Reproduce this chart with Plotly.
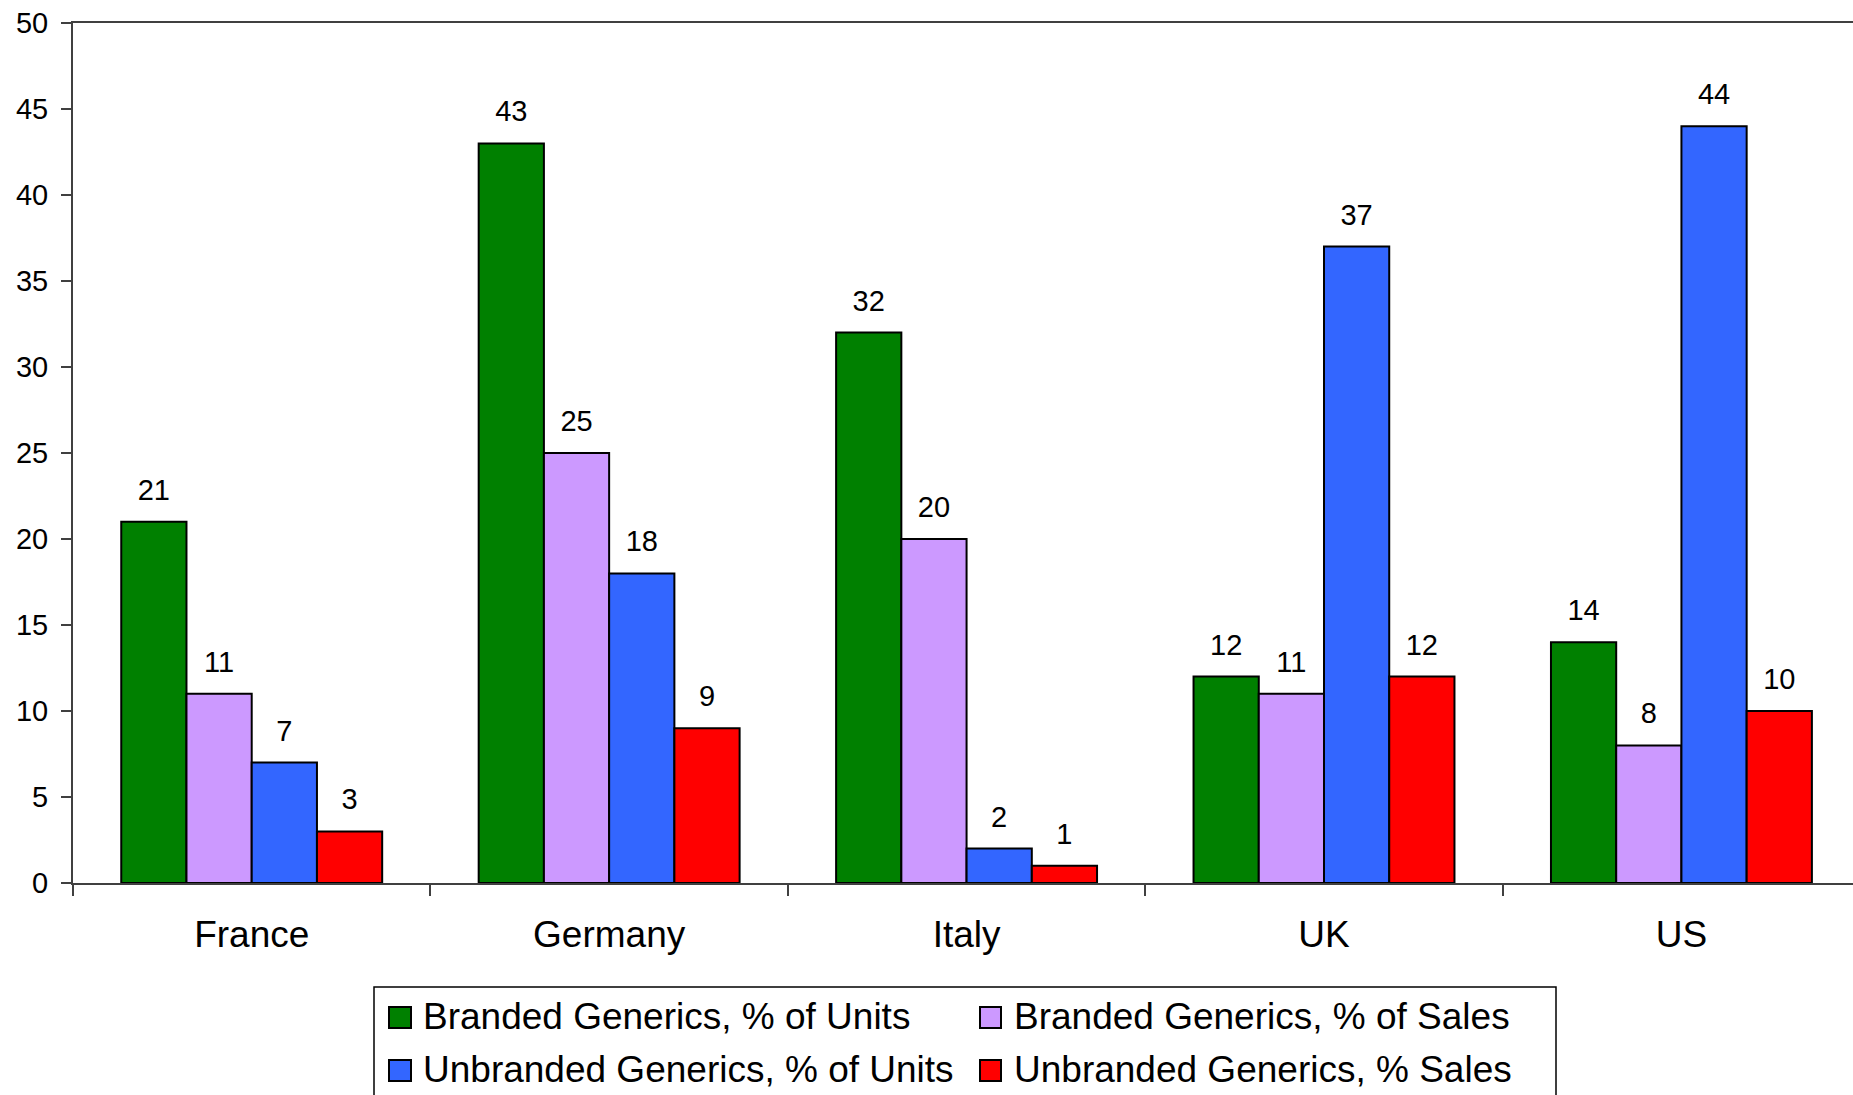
import plotly.graph_objects as go

countries = ["France", "Germany", "Italy", "UK", "US"]
series_names = [
    "Branded Generics, % of Units",
    "Branded Generics, % of Sales",
    "Unbranded Generics, % of Units",
    "Unbranded Generics, % Sales",
]
branded_units = [21, 43, 32, 12, 14]
branded_sales = [11, 25, 20, 11, 8]
unbranded_units = [7, 18, 2, 37, 44]
unbranded_sales = [3, 9, 1, 12, 10]
series_values = [branded_units, branded_sales, unbranded_units, unbranded_sales]
colors = ["#008000", "#CC99FF", "#3366FF", "#FF0000"]

FONT = "Liberation Sans, Arial, Helvetica, sans-serif"
W, H = 1853, 1095
ML, MT, MB = 73, 23, 212
PW = W - ML
PH = H - MT - MB
AXC = "#404040"

fig = go.Figure()
for i, (name, vals, col) in enumerate(zip(series_names, series_values, colors)):
    fig.add_trace(go.Bar(
        x=countries, y=vals, name=name, offsetgroup=str(i),
        marker=dict(color=col, line=dict(color="black", width=2)),
        showlegend=False, hoverinfo="x+y+name",
    ))
for i, vals in enumerate(series_values):
    fig.add_trace(go.Scatter(
        x=countries, y=vals, offsetgroup=str(i), mode="markers+text",
        text=[str(v) for v in vals], textposition="top center",
        textfont=dict(family=FONT, size=29, color="black"),
        marker=dict(size=22, color="rgba(0,0,0,0)"),
        showlegend=False, hoverinfo="skip", cliponaxis=False,
    ))

def px_x(px):
    return (px - ML) / PW

def px_y(py):
    return (H - MB - py) / PH

shapes = [dict(type="rect", xref="paper", yref="paper",
               x0=px_x(374), x1=px_x(1556), y0=px_y(987), y1=px_y(1110),
               line=dict(color="black", width=1.5), fillcolor="white", layer="above")]
annotations = []
col_sq = [(389, 411), (980, 1001)]
col_tx = [421, 1012]
row_sq = [(1007, 1028), (1060, 1081)]
row_tx = [1016, 1069]
for i, (name, col) in enumerate(zip(series_names, colors)):
    r, c = divmod(i, 2)
    shapes.append(dict(type="rect", xref="paper", yref="paper",
                       x0=px_x(col_sq[c][0]), x1=px_x(col_sq[c][1]),
                       y0=px_y(row_sq[r][1]), y1=px_y(row_sq[r][0]),
                       fillcolor=col, line=dict(color="black", width=2), layer="above"))
    annotations.append(dict(xref="paper", yref="paper", x=px_x(col_tx[c]), y=px_y(row_tx[r]),
                            xanchor="left", yanchor="middle", showarrow=False, text=name,
                            font=dict(family=FONT, size=37, color="black")))

fig.update_layout(
    width=W, height=H, autosize=False,
    margin=dict(l=ML, r=0, t=MT, b=MB, pad=0),
    paper_bgcolor="white", plot_bgcolor="white",
    barmode="group", bargap=0.27, bargroupgap=0,
    scattermode="group", scattergap=0.27,
    font=dict(family=FONT, color="black"),
    showlegend=False,
    shapes=shapes, annotations=annotations,
    xaxis=dict(type="category", range=[-0.5, 4.48], tickson="boundaries",
               ticks="outside", ticklen=11, tickwidth=1.5, tickcolor=AXC,
               showline=True, linecolor=AXC, linewidth=2, mirror=True,
               showgrid=False, zeroline=False, ticklabelstandoff=18,
               tickfont=dict(family=FONT, size=37, color="black")),
    yaxis=dict(range=[0, 50], dtick=5, tick0=0, ticks="outside", ticklen=10,
               tickwidth=1.5, tickcolor=AXC, showline=True, linecolor=AXC, linewidth=2,
               showgrid=False, zeroline=False, ticklabelstandoff=7,
               tickfont=dict(family=FONT, size=29, color="black")),
)

fig.write_html("out.html")
